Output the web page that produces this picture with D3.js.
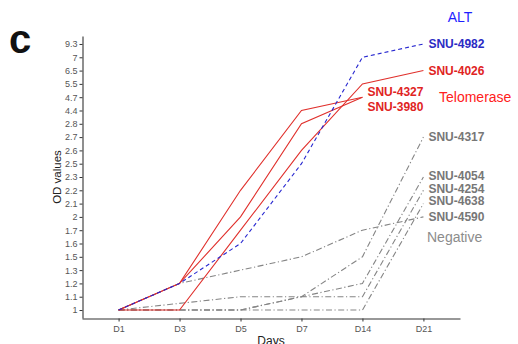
<!DOCTYPE html>
<html>
<head>
<meta charset="utf-8">
<script src="https://cdn.jsdelivr.net/npm/d3@7"></script>
<style>
  body { margin: 0; background: #fff; }
  svg { font-family: "Liberation Sans", Arial, sans-serif; }
</style>
</head>
<body>
<svg id="chart" width="518" height="344"></svg>
<script>
// days on the x axis, OD levels on the (discrete) y axis
const days = ["D1", "D3", "D5", "D7", "D14", "D21"];
const odLevels = ["1", "1.1", "1.2", "1.3", "1.5", "1.6", "1.7", "2", "2.1", "2.2", "2.3",
                  "2.5", "2.6", "2.7", "2.8", "4.4", "4.7", "5.5", "6.5", "7", "9.3"];

// ALT
const snu4982 = [1, 1.2, 1.6, 2.5, 7, 9.3];
// Telomerase
const snu4026 = [1, 1, 1.7, 2.6, 5.5, 6.5];
const snu4327 = [1, 1.2, 2.2, 4.4, 4.7, null];
const snu3980 = [1, 1.2, 2, 2.8, 4.7, null];
// Negative
const snu4317 = [1, 1, 1, 1.1, 1.5, 2.7];
const snu4054 = [1, 1, 1, 1.1, 1.2, 2.3];
const snu4254 = [1, null, 1.1, 1.1, 1.1, 2.2];
const snu4638 = [1, 1, 1, 1, 1, 2.1];
const snu4590 = [1, 1.2, 1.3, 1.5, 1.7, 2];

const series = [
    { name: "SNU-4317", group: "neg", values: snu4317 },
    { name: "SNU-4054", group: "neg", values: snu4054 },
    { name: "SNU-4254", group: "neg", values: snu4254 },
    { name: "SNU-4638", group: "neg", values: snu4638 },
    { name: "SNU-4590", group: "neg", values: snu4590 },
    { name: "SNU-4026", group: "tel", values: snu4026 },
    { name: "SNU-4327", group: "tel", values: snu4327 },
    { name: "SNU-3980", group: "tel", values: snu3980 },
    { name: "SNU-4982", group: "alt", values: snu4982 }
];

const styles = {
    alt: { line: "#2727d0", label: "#2b2bc4", dash: "4,3" },
    tel: { line: "#e0302c", label: "#e0241f", dash: null },
    neg: { line: "#858585", label: "#777", dash: "6,2.5,1.2,2.5" }
};

// small vertical nudges for the end labels (like ggrepel would do)
const labelNudge = { "SNU-4327": -5.5, "SNU-3980": 9.5, "SNU-4054": -1, "SNU-4254": -1.5, "SNU-4638": -2.5 };

const svg = d3.select("#chart");

const x = d3.scalePoint().domain(days).range([82, 460]).padding(0.6);
const y = d3.scalePoint().domain(odLevels).range([318, 36]).padding(0.6);

// axes
const xAxis = svg.append("g")
    .attr("transform", "translate(0,318.5)")
    .call(d3.axisBottom(x).tickSize(3).tickSizeOuter(0).tickPadding(4));
const yAxis = svg.append("g")
    .attr("transform", "translate(82.5,0)")
    .call(d3.axisLeft(y).tickSize(3).tickSizeOuter(0).tickPadding(2));

[xAxis, yAxis].forEach(a => {
    a.select(".domain").attr("stroke", "#333").attr("stroke-width", 1.1);
    a.selectAll(".tick line").attr("stroke", "#333");
    a.selectAll(".tick text").attr("fill", "#555").attr("font-size", 9)
        .attr("font-family", "'Liberation Sans', Arial, sans-serif");
});

// lines
const line = d3.line()
    .x(d => x(d.day))
    .y(d => y(String(d.v)));

const pts = s => s.values
    .map((v, i) => ({ day: days[i], v }))
    .filter(d => d.v !== null);

svg.append("g").selectAll("path")
    .data(series)
    .join("path")
    .attr("fill", "none")
    .attr("stroke", d => styles[d.group].line)
    .attr("stroke-width", 1.1)
    .attr("stroke-dasharray", d => styles[d.group].dash)
    .attr("d", d => line(pts(d)));

// end labels
svg.append("g").selectAll("text")
    .data(series)
    .join("text")
    .attr("x", d => x(pts(d).at(-1).day) + 5)
    .attr("y", d => y(String(pts(d).at(-1).v)) + (labelNudge[d.name] || 0))
    .attr("dy", "0.36em")
    .attr("font-size", 12)
    .attr("font-weight", "bold")
    .attr("fill", d => styles[d.group].label)
    .text(d => d.name);

// group annotations
svg.append("text")
    .attr("x", 460).attr("y", 17).attr("dy", "0.36em")
    .attr("text-anchor", "middle").attr("font-size", 14).attr("fill", "#1e1eff")
    .text("ALT");
svg.append("text")
    .attr("x", 439).attr("y", 97).attr("dy", "0.36em")
    .attr("font-size", 14).attr("fill", "#ff2020")
    .text("Telomerase");
svg.append("text")
    .attr("x", 427).attr("y", 237).attr("dy", "0.36em")
    .attr("font-size", 14).attr("fill", "#8c8c8c")
    .text("Negative");

// titles
svg.append("text")
    .attr("x", 271).attr("y", 345)
    .attr("text-anchor", "middle").attr("font-size", 12).attr("fill", "#222")
    .text("Days");
svg.append("text")
    .attr("transform", "translate(57,177) rotate(-90)")
    .attr("dy", "0.36em")
    .attr("text-anchor", "middle").attr("font-size", 11.5).attr("fill", "#222")
    .text("OD values");

// panel letter
svg.append("text")
    .attr("x", 9).attr("y", 53)
    .attr("font-size", 40).attr("font-weight", "bold").attr("fill", "#111")
    .text("c");
</script>
</body>
</html>
